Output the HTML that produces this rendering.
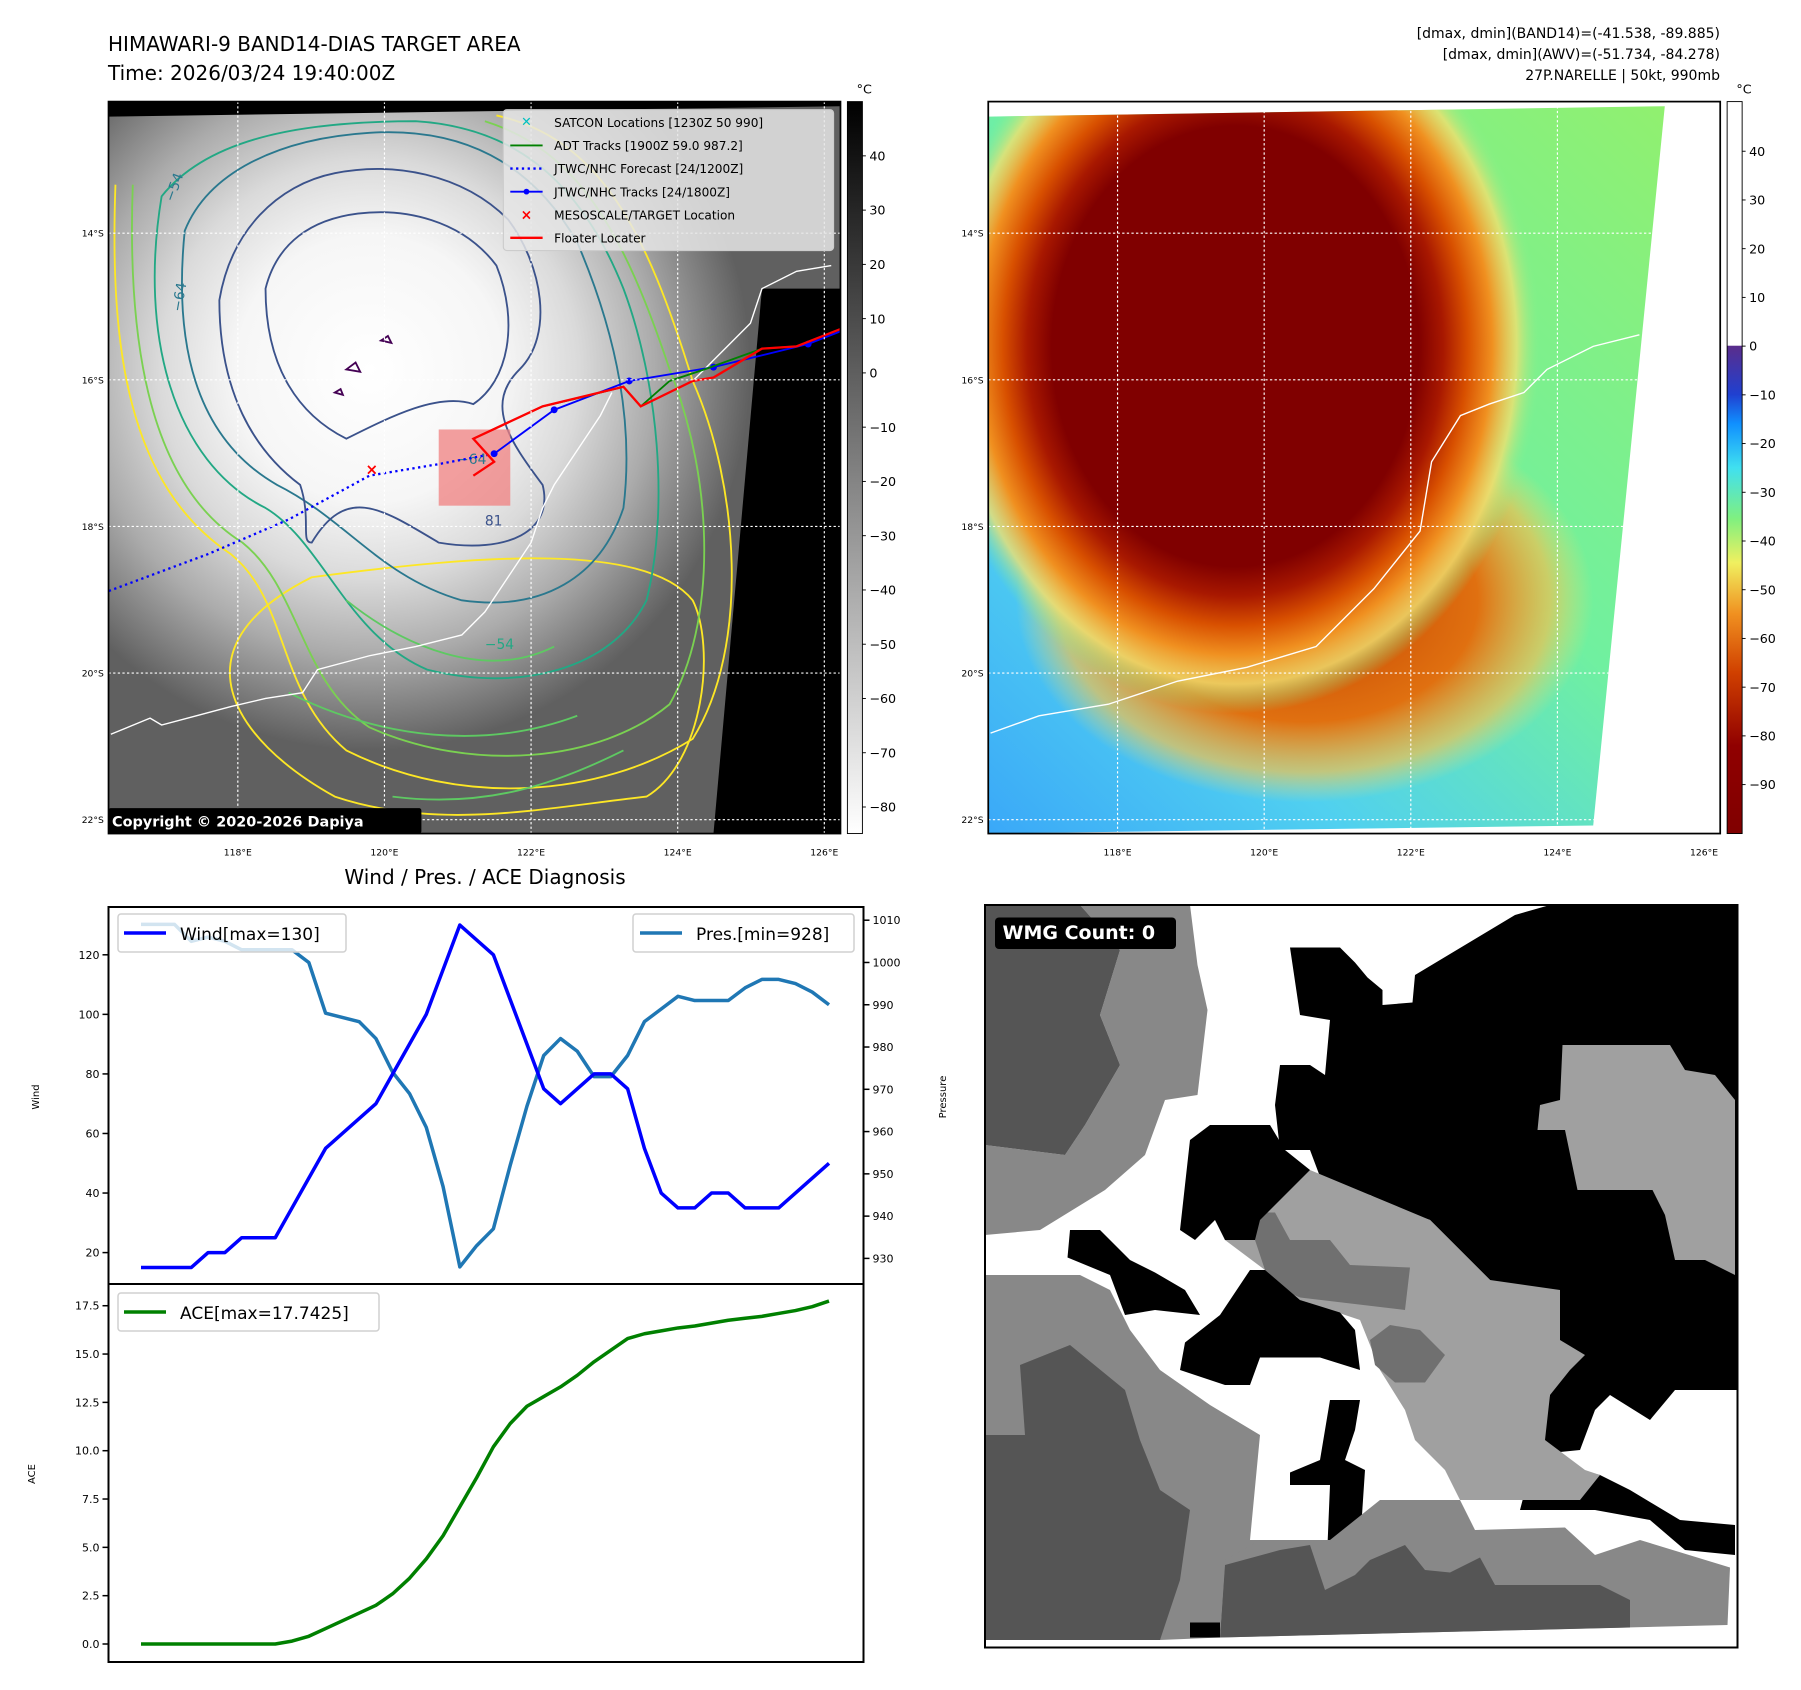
<!DOCTYPE html>
<html><head><meta charset="utf-8"><title>Himawari diagnosis</title>
<style>
html,body{margin:0;padding:0;background:#fff;}
svg{display:block;font-family:"DejaVu Sans","Liberation Sans",sans-serif;}
</style></head>
<body>
<svg id="fig" width="1801" height="1690" viewBox="0 0 1801 1690" xmlns="http://www.w3.org/2000/svg">
<defs>
  <radialGradient id="cloudG" cx="320" cy="320" r="330" gradientUnits="userSpaceOnUse">
    <stop offset="0" stop-color="#ffffff"/><stop offset="0.35" stop-color="#f6f6f6"/>
    <stop offset="0.55" stop-color="#dadada"/><stop offset="0.75" stop-color="#ababab"/>
    <stop offset="1" stop-color="#606060"/>
  </radialGradient>
  <radialGradient id="awvG" cx="1070" cy="300" r="265" gradientUnits="userSpaceOnUse" gradientTransform="translate(1070 300) scale(1 1.2) translate(-1070 -300)">
    <stop offset="0" stop-color="#800000"/><stop offset="0.6" stop-color="#800000"/>
    <stop offset="0.68" stop-color="#a81800"/><stop offset="0.76" stop-color="#d85000"/>
    <stop offset="0.84" stop-color="#f09020"/><stop offset="0.92" stop-color="#f0e070" stop-opacity="0.8"/>
    <stop offset="1" stop-color="#80f090" stop-opacity="0"/>
  </radialGradient>
  <radialGradient id="awvBand" cx="1130" cy="520" r="250" gradientUnits="userSpaceOnUse" gradientTransform="translate(1130 520) scale(1 0.7) translate(-1130 -520)">
    <stop offset="0" stop-color="#c04000"/><stop offset="0.6" stop-color="#e07010"/>
    <stop offset="0.85" stop-color="#f0c050" stop-opacity="0.7"/><stop offset="1" stop-color="#f0e070" stop-opacity="0"/>
  </radialGradient>
  <linearGradient id="awvBg" x1="1440" y1="100" x2="856" y2="722" gradientUnits="userSpaceOnUse">
    <stop offset="0" stop-color="#90f070"/><stop offset="0.45" stop-color="#70f0a0"/>
    <stop offset="0.75" stop-color="#50d0f0"/><stop offset="1" stop-color="#3aa8f8"/>
  </linearGradient>
  <linearGradient id="cb1" x1="0" y1="0" x2="0" y2="1">
    <stop offset="0" stop-color="#000"/><stop offset="1" stop-color="#fff"/>
  </linearGradient>
  <linearGradient id="cb2" x1="0" y1="0" x2="0" y2="1">
    <stop offset="0" stop-color="#fff"/><stop offset="0.333" stop-color="#fff"/>
    <stop offset="0.334" stop-color="#5a2d8c"/><stop offset="0.40" stop-color="#2040d0"/>
    <stop offset="0.44" stop-color="#1090ff"/><stop offset="0.50" stop-color="#40e0f0"/>
    <stop offset="0.57" stop-color="#80f080"/><stop offset="0.63" stop-color="#f0f060"/>
    <stop offset="0.70" stop-color="#f09020"/><stop offset="0.78" stop-color="#d04000"/>
    <stop offset="0.88" stop-color="#900000"/><stop offset="1" stop-color="#800000"/>
  </linearGradient>
  <clipPath id="clip1"><rect x="94" y="88" width="634" height="634"/></clipPath>
  <clipPath id="clip2"><rect x="856" y="88" width="634" height="634"/></clipPath>
</defs>

<text x="108" y="51" font-size="20">HIMAWARI-9 BAND14-DIAS TARGET AREA</text>
<text x="108" y="80" font-size="20">Time: 2026/03/24 19:40:00Z</text>
<g font-size="14" text-anchor="end">
  <text x="1720" y="38">[dmax, dmin](BAND14)=(-41.538, -89.885)</text>
  <text x="1720" y="59">[dmax, dmin](AWV)=(-51.734, -84.278)</text>
  <text x="1720" y="80">27P.NARELLE | 50kt, 990mb</text>
</g>

<g transform="scale(1.1545)">
  <g clip-path="url(#clip1)">
    <rect x="94" y="88" width="634" height="634" fill="#000"/>
    <polygon points="94,101 728,92 728,250 660,250 618,722 94,722" fill="url(#cloudG)"/>
    <g fill="none" stroke-width="1.6">
      <path d="M270,500 C150,560 200,640 290,690 C380,720 470,700 560,690 C610,660 620,560 600,520 C560,470 420,480 270,500 Z" stroke="#fde725"/>
      <path d="M100,160 C95,300 110,420 200,480 C250,520 240,600 300,650 C400,700 520,690 600,640 C650,560 640,420 600,330 C560,200 520,120 430,100" stroke="#fde725"/>
      <path d="M115,160 C110,300 130,420 210,470 C260,510 260,590 320,630 C410,670 520,660 580,610 C620,540 620,420 580,320 C540,200 500,130 420,105" stroke="#7ad151"/>
      <path d="M140,170 C120,290 150,400 230,440 C280,470 300,550 370,580 C450,600 530,580 560,520 C580,440 570,330 540,250 C500,150 440,110 360,105 C260,105 180,120 140,170 Z" stroke="#22a884"/>
      <path d="M160,200 C150,300 170,380 240,420 C300,450 330,500 400,520 C470,530 520,500 540,440 C550,360 530,280 500,210 C460,140 400,110 320,115 C240,120 180,150 160,200 Z" stroke="#2a788e"/>
      <path d="M190,260 C190,340 220,390 260,420 C270,450 260,470 270,470 C300,420 330,440 380,470 C440,480 480,460 470,420 C440,380 420,350 450,320 C480,290 470,230 440,190 C400,150 340,140 290,150 C240,160 200,200 190,260 Z" stroke="#3b528b"/>
      <path d="M230,250 C230,320 260,360 300,380 C340,360 380,340 410,350 C440,330 450,280 430,230 C400,190 350,180 310,185 C270,190 240,210 230,250 Z" stroke="#3b528b"/>
      <path d="M300,320 l8,-6 l4,8 z M330,295 l6,-4 l3,6 z M290,340 l5,-3 l2,5 z" stroke="#440154"/>
      <path d="M300,520 C350,560 420,590 480,560 M250,600 C330,640 420,650 500,620 M340,690 C420,700 480,680 540,650" stroke="#5ec962"/>
    </g>
    <rect x="380" y="372" width="62" height="66" fill="#f08080" opacity="0.75"/>
    <text x="396" y="402" font-size="12" fill="#2a788e">−64</text>
    <text x="420" y="455" font-size="12" fill="#3b528b">81</text>
    <text x="145" y="172" font-size="12" fill="#2a788e" transform="rotate(-70 150 170)">−54</text>
    <text x="150" y="268" font-size="12" fill="#2a788e" transform="rotate(-80 155 265)">−64</text>
    <text x="420" y="562" font-size="12" fill="#22a884">−54</text>
    <path d="M96,636 L130,622 L140,628 L170,620 L200,612 L230,605 L262,600 L275,580 L320,568 L360,560 L400,550 L420,530 L440,500 L460,470 L470,440 L480,420 L500,390 L520,360 L530,340 M600,330 L630,300 L650,280 L660,250 L690,235 L720,230" fill="none" stroke="#fff" stroke-width="1.2"/>
    <polyline points="428,393 380,402 320,412 250,450 180,480 94,512" fill="none" stroke="#0000ff" stroke-width="2" stroke-dasharray="2,3"/>
    <polyline points="728,287 700,298 618,318 545,330 480,355 428,393" fill="none" stroke="#0000ff" stroke-width="1.6"/>
    <g fill="#0000ff"><circle cx="700" cy="298" r="3"/><circle cx="618" cy="318" r="3"/><circle cx="545" cy="330" r="3"/><circle cx="480" cy="355" r="3"/><circle cx="428" cy="393" r="3"/></g>
    <polyline points="690,300 660,302 610,320 580,330 555,352 540,335 500,345 470,352 410,380" fill="none" stroke="#008000" stroke-width="1.6"/>
    <polyline points="728,285 690,300 660,302 618,327 600,330 555,352 540,335 470,352 410,380 428,400 410,412" fill="none" stroke="#ff0000" stroke-width="2"/>
    <text x="322" y="411" font-size="13" font-weight="bold" fill="#ff0000" text-anchor="middle">×</text>
    <g stroke="#fff" stroke-width="1" stroke-dasharray="2,2" fill="none">
      <line x1="206" y1="88" x2="206" y2="722"/><line x1="333" y1="88" x2="333" y2="722"/><line x1="460" y1="88" x2="460" y2="722"/><line x1="587" y1="88" x2="587" y2="722"/><line x1="714" y1="88" x2="714" y2="722"/>
      <line x1="94" y1="202" x2="728" y2="202"/><line x1="94" y1="329" x2="728" y2="329"/><line x1="94" y1="456" x2="728" y2="456"/><line x1="94" y1="583" x2="728" y2="583"/><line x1="94" y1="710" x2="728" y2="710"/>
    </g>
  </g>
  <rect x="94" y="88" width="634" height="634" fill="none" stroke="#000" stroke-width="1.5"/>
  <g>
    <rect x="436" y="95" width="286" height="122" rx="3" fill="#e6e6e6" fill-opacity="0.85" stroke="#ccc"/>
    <g font-size="10.5">
      <text x="456" y="109" fill="#00c0c0" font-size="11" text-anchor="middle">✕</text>
      <text x="480" y="110">SATCON Locations [1230Z 50 990]</text>
      <line x1="442" y1="126" x2="470" y2="126" stroke="#008000" stroke-width="1.6"/>
      <text x="480" y="130">ADT Tracks [1900Z 59.0 987.2]</text>
      <line x1="442" y1="146" x2="470" y2="146" stroke="#0000ff" stroke-width="2" stroke-dasharray="2,3"/>
      <text x="480" y="150">JTWC/NHC Forecast [24/1200Z]</text>
      <line x1="442" y1="166" x2="470" y2="166" stroke="#0000ff" stroke-width="1.6"/><circle cx="456" cy="166" r="2.5" fill="#0000ff"/>
      <text x="480" y="170">JTWC/NHC Tracks [24/1800Z]</text>
      <text x="456" y="190" fill="#ff0000" font-size="12" font-weight="bold" text-anchor="middle">×</text>
      <text x="480" y="190">MESOSCALE/TARGET Location</text>
      <line x1="442" y1="206" x2="470" y2="206" stroke="#ff0000" stroke-width="2"/>
      <text x="480" y="210">Floater Locater</text>
    </g>
  </g>
  <rect x="94" y="700" width="271" height="22" fill="#000" rx="2"/>
  <text x="97" y="716" font-size="12.5" font-weight="bold" fill="#fff">Copyright © 2020-2026 Dapiya</text>

  <g clip-path="url(#clip2)">
    <rect x="856" y="88" width="634" height="634" fill="#fff"/>
    <polygon points="856,101 1442,92 1380,715 856,722" fill="url(#awvBg)"/>
    <g clip-path="url(#clip2)">
      <polygon points="856,101 1442,92 1380,715 856,722" fill="url(#awvBand)"/>
    </g>
    <polygon points="856,101 1442,92 1380,715 856,722" fill="url(#awvG)"/>
    <path d="M858,635 L900,620 L960,610 L1020,590 L1080,578 L1140,560 L1190,510 L1230,460 L1240,400 L1265,360 L1290,350 L1320,340 L1340,320 L1380,300 L1420,290" fill="none" stroke="#fff" stroke-width="1.2"/>
    <g stroke="#fff" stroke-width="1" stroke-dasharray="2,2" fill="none">
      <line x1="968" y1="88" x2="968" y2="722"/><line x1="1095" y1="88" x2="1095" y2="722"/><line x1="1222" y1="88" x2="1222" y2="722"/><line x1="1349" y1="88" x2="1349" y2="722"/><line x1="1476" y1="88" x2="1476" y2="722"/>
      <line x1="856" y1="202" x2="1490" y2="202"/><line x1="856" y1="329" x2="1490" y2="329"/><line x1="856" y1="456" x2="1490" y2="456"/><line x1="856" y1="583" x2="1490" y2="583"/><line x1="856" y1="710" x2="1490" y2="710"/>
    </g>
  </g>
  <rect x="856" y="88" width="634" height="634" fill="none" stroke="#000" stroke-width="1.5"/>

  <g font-size="8">
    <g text-anchor="end">
      <text x="90" y="205">14°S</text><text x="90" y="332">16°S</text><text x="90" y="459">18°S</text><text x="90" y="586">20°S</text><text x="90" y="713">22°S</text>
      <text x="852" y="205">14°S</text><text x="852" y="332">16°S</text><text x="852" y="459">18°S</text><text x="852" y="586">20°S</text><text x="852" y="713">22°S</text>
    </g>
    <g text-anchor="middle">
      <text x="206" y="741">118°E</text><text x="333" y="741">120°E</text><text x="460" y="741">122°E</text><text x="587" y="741">124°E</text><text x="714" y="741">126°E</text>
      <text x="968" y="741">118°E</text><text x="1095" y="741">120°E</text><text x="1222" y="741">122°E</text><text x="1349" y="741">124°E</text><text x="1476" y="741">126°E</text>
    </g>
  </g>
  <rect x="734" y="88" width="13" height="634" fill="url(#cb1)" stroke="#000" stroke-width="0.8"/>
  <rect x="1496" y="88" width="13" height="634" fill="url(#cb2)" stroke="#000" stroke-width="0.8"/>
  <text x="742" y="81" font-size="11">°C</text>
  <text x="1504" y="81" font-size="11">°C</text>
  <g id="cb1labels" font-size="11"></g>
  <g id="cb2labels" font-size="11"></g>
</g>

<text x="485" y="884" font-size="20" text-anchor="middle">Wind / Pres. / ACE Diagnosis</text>
<g id="windChart"></g>
<g id="aceChart"></g>

<g transform="translate(980 890) scale(0.5)">
  <rect x="10" y="30" width="1505" height="1485" fill="#fff"/>
  <polygon points="200,30 420,30 435,150 455,240 435,410 370,420 330,530 250,600 120,680 10,690 10,510 170,530 210,470 280,350 240,250 280,120" fill="#888"/>
  <polygon points="10,30 200,30 280,120 240,250 280,350 210,470 170,530 10,510" fill="#555"/>
  <polygon points="10,770 200,770 260,800 300,880 360,960 460,1030 560,1090 540,1300 660,1300 700,1400 560,1340 490,1350 480,1495 360,1500 10,1500" fill="#888"/>
  <polygon points="10,1090 90,1090 80,950 180,910 290,1000 320,1100 360,1200 420,1240 400,1380 360,1500 10,1500" fill="#555"/>
  <polygon points="620,115 720,115 750,145 775,175 805,200 805,230 865,225 870,170 970,110 1070,50 1140,30 1515,30 1515,1000 1390,1000 1340,1060 1260,1010 1230,1040 1200,1120 1100,1130 1160,1150 1240,1170 1300,1200 1400,1260 1510,1270 1510,1330 1410,1320 1340,1260 1230,1240 1080,1240 1140,1010 1160,800 1050,810 1020,780 960,720 900,660 840,640 780,610 690,600 660,520 600,520 590,430 600,350 660,350 690,370 700,260 640,250" fill="#000"/>
  <polygon points="1165,310 1290,310 1380,310 1410,360 1470,370 1510,420 1510,770 1450,740 1390,740 1370,650 1345,600 1195,600 1170,480 1115,480 1120,430 1160,420" fill="#a0a0a0"/>
  <polygon points="510,525 600,525 660,560 780,610 900,660 960,720 1020,780 1160,800 1160,900 1210,930 1180,960 1140,1010 1130,1100 1210,1160 1240,1170 1200,1220 960,1220 930,1160 870,1100 850,1040 800,960 760,860 640,820 570,760 490,700 470,640" fill="#a0a0a0"/>
  <polygon points="500,645 590,645 620,700 700,700 740,750 860,755 850,840 640,815 580,790 550,700" fill="#707070"/>
  <polygon points="780,900 820,870 880,880 930,930 890,985 830,985 790,950" fill="#707070"/>
  <polygon points="460,470 580,470 610,520 660,560 560,660 550,700 490,700 470,660 430,700 400,680 410,590 420,500" fill="#000"/>
  <polygon points="180,680 240,680 300,740 350,765 410,800 440,850 350,840 290,850 260,770 175,735" fill="#000"/>
  <polygon points="480,850 540,760 570,760 640,820 720,845 750,880 760,960 680,935 560,935 540,990 490,990 400,960 410,905" fill="#000"/>
  <polygon points="700,1020 760,1020 750,1080 730,1140 770,1160 760,1310 695,1310 700,1190 620,1190 620,1165 680,1140 690,1080" fill="#000"/>
  <polygon points="700,1300 800,1220 960,1220 990,1280 1170,1275 1230,1330 1320,1300 1500,1355 1495,1470 480,1495 490,1340 560,1300" fill="#888"/>
  <polygon points="490,1350 600,1320 660,1310 690,1400 750,1370 780,1340 850,1310 890,1360 940,1365 1000,1335 1030,1390 1150,1390 1240,1390 1300,1420 1300,1475 480,1495" fill="#555"/>
  <polygon points="420,1465 480,1465 480,1495 420,1495" fill="#000"/>
  <rect x="10" y="30" width="1505" height="1485" fill="none" stroke="#000" stroke-width="4"/>
  <rect x="30" y="55" width="362" height="63" rx="8" fill="#000"/>
  <text x="45" y="98" font-size="38" font-weight="bold" fill="#fff">WMG Count: 0</text>
</g>

<script>
const windValues = [15,15,15,15,20,20,25,25,25,35,45,55,60,65,70,80,90,100,115,130,125,120,105,90,75,70,75,80,80,75,55,40,35,35,40,40,35,35,35,40,45,50];
const presValues = [1009,1009,1009,1005,1006,1005,1003,1003,1003,1003,1000,988,987,986,982,974,969,961,947,928,933,937,952,966,978,982,979,973,973,978,986,989,992,991,991,991,994,996,996,995,993,990];
const aceValues = [0,0,0,0,0,0,0,0,0,0.15,0.4,0.8,1.2,1.6,2.0,2.6,3.4,4.4,5.6,7.1,8.6,10.2,11.4,12.3,12.8,13.3,13.9,14.6,15.2,15.8,16.05,16.2,16.35,16.45,16.6,16.75,16.85,16.95,17.1,17.25,17.45,17.7425];
const windTicks = [20,40,60,80,100,120];
const presTicks = [930,940,950,960,970,980,990,1000,1010];
const aceTicks = [0.0,2.5,5.0,7.5,10.0,12.5,15.0,17.5];
const cb1Ticks = [40,30,20,10,0,-10,-20,-30,-40,-50,-60,-70,-80];
const cb2Ticks = [40,30,20,10,0,-10,-20,-30,-40,-50,-60,-70,-80,-90];

const NS = 'http://www.w3.org/2000/svg';
function mk(tag, attrs, parent){const e=document.createElementNS(NS,tag);for(const k in attrs)e.setAttribute(k,attrs[k]);parent.appendChild(e);return e;}

const L=108.5, R=863.5, WT=907, WB=1284, AB=1662;
const x0=141, x1=829;
function xAt(i){return x0+(x1-x0)*i/(windValues.length-1);}
function yWind(v){return 954.8+(120-v)*2.978;}
function yPres(v){return 920.2+(1010-v)*4.2275;}
function yAce(v){return 1644-v*19.33;}

const wc=document.getElementById('windChart');
let frame=mk('rect',{x:L,y:WT,width:R-L,height:WB-WT,fill:'none',stroke:'#000','stroke-width':2},wc);


windTicks.forEach(t=>{
  const y=yWind(t);
  mk('line',{x1:L-6,y1:y,x2:L,y2:y,stroke:'#000','stroke-width':1.5},wc);
  const tx=mk('text',{x:L-9,y:y+4,'font-size':11,'text-anchor':'end'},wc);tx.textContent=t;
  
  
});
presTicks.forEach(t=>{
  const y=yPres(t);
  mk('line',{x1:R,y1:y,x2:R+6,y2:y,stroke:'#000','stroke-width':1.5},wc);
  const tx=mk('text',{x:R+9,y:y+4,'font-size':11},wc);tx.textContent=t;
  
  
});
let yl=mk('text',{x:39,y:1097,'font-size':10,'text-anchor':'middle',transform:'rotate(-90 39 1097)'},wc);yl.textContent='Wind';


let pl=mk('text',{x:946,y:1097,'font-size':10,'text-anchor':'middle',transform:'rotate(-90 946 1097)'},wc);pl.textContent='Pressure';



const presLine=mk('polyline',{points:presValues.map((v,i)=>xAt(i)+','+yPres(v)).join(' '),fill:'none',stroke:'#1f77b4','stroke-width':3.5,'stroke-linejoin':'round'},wc);


const windLine=mk('polyline',{points:windValues.map((v,i)=>xAt(i)+','+yWind(v)).join(' '),fill:'none',stroke:'#0000ff','stroke-width':3.5,'stroke-linejoin':'round'},wc);



let lg1=mk('g',{},wc);


mk('rect',{x:118,y:914,width:228,height:38,rx:3,fill:'#fff','fill-opacity':0.8,stroke:'#d0d0d0','stroke-width':1.5},lg1);
mk('line',{x1:124,y1:933,x2:166,y2:933,stroke:'#0000ff','stroke-width':3.5},lg1);
let t1=mk('text',{x:180,y:940,'font-size':17},lg1);t1.textContent='Wind[max=130]';
let lg2=mk('g',{},wc);


mk('rect',{x:633,y:914,width:221,height:38,rx:3,fill:'#fff','fill-opacity':0.8,stroke:'#d0d0d0','stroke-width':1.5},lg2);
mk('line',{x1:640,y1:933,x2:682,y2:933,stroke:'#1f77b4','stroke-width':3.5},lg2);
let t2=mk('text',{x:696,y:940,'font-size':17},lg2);t2.textContent='Pres.[min=928]';

const ac=document.getElementById('aceChart');
let af=mk('rect',{x:L,y:WB,width:R-L,height:AB-WB,fill:'none',stroke:'#000','stroke-width':2},ac);


aceTicks.forEach(t=>{
  const y=yAce(t);
  mk('line',{x1:L-6,y1:y,x2:L,y2:y,stroke:'#000','stroke-width':1.5},ac);
  const tx=mk('text',{x:L-9,y:y+4,'font-size':11,'text-anchor':'end'},ac);tx.textContent=t.toFixed(1);
  
  
});
let al=mk('text',{x:35,y:1474,'font-size':10,'text-anchor':'middle',transform:'rotate(-90 35 1474)'},ac);al.textContent='ACE';


const aceLine=mk('polyline',{points:aceValues.map((v,i)=>xAt(i)+','+yAce(v)).join(' '),fill:'none',stroke:'#008000','stroke-width':3.5,'stroke-linejoin':'round'},ac);


let lg3=mk('g',{},ac);


mk('rect',{x:118,y:1293,width:261,height:38,rx:3,fill:'#fff','fill-opacity':0.8,stroke:'#d0d0d0','stroke-width':1.5},lg3);
mk('line',{x1:124,y1:1312,x2:166,y2:1312,stroke:'#008000','stroke-width':3.5},lg3);
let t3=mk('text',{x:180,y:1319,'font-size':17},lg3);t3.textContent='ACE[max=17.7425]';

const c1=document.getElementById('cb1labels');
cb1Ticks.forEach(t=>{
  const y=135+(40-t)*4.7;
  mk('line',{x1:747,y1:y,x2:750,y2:y,stroke:'#000','stroke-width':0.8},c1);
  const tx=mk('text',{x:753,y:y+4},c1);tx.textContent=t<0?'−'+(-t):t;
  
  
});
const c2=document.getElementById('cb2labels');
cb2Ticks.forEach(t=>{
  const y=131+(40-t)*4.22;
  mk('line',{x1:1509,y1:y,x2:1512,y2:y,stroke:'#000','stroke-width':0.8},c2);
  const tx=mk('text',{x:1515,y:y+4},c2);tx.textContent=t<0?'−'+(-t):t;
  
  
});
</script>
</svg>
</body></html>
